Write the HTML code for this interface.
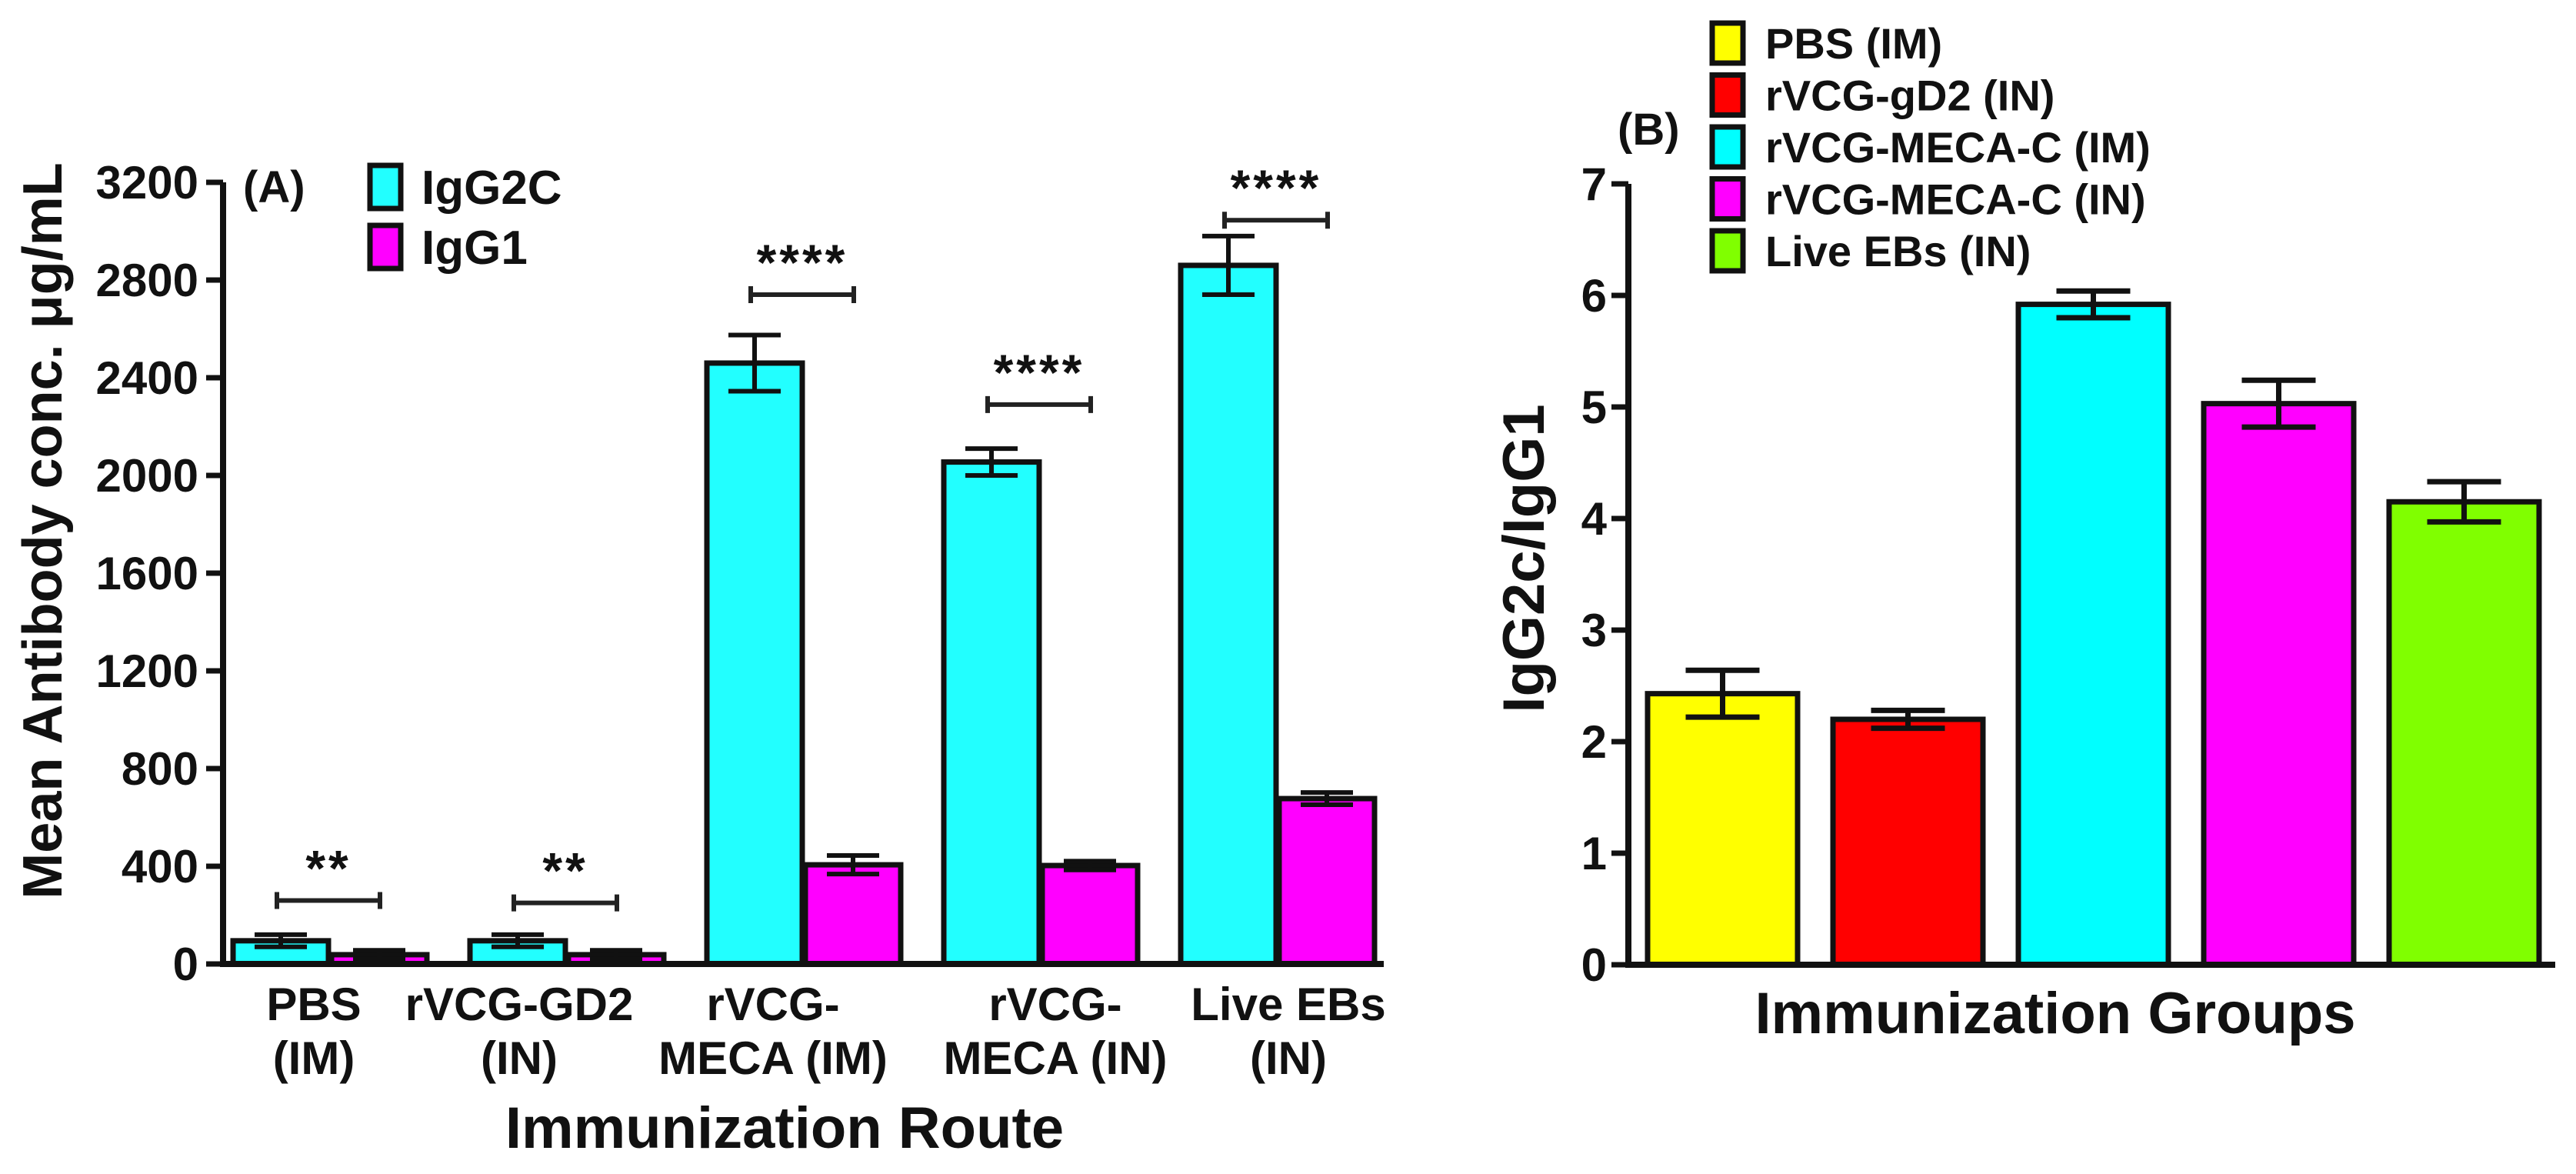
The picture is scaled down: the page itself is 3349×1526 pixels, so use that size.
<!DOCTYPE html>
<html><head><meta charset="utf-8"><style>
html,body{margin:0;padding:0;background:#fff;}
svg{display:block;}
text{font-family:"Liberation Sans",Arial,sans-serif;font-weight:bold;fill:#111;}
</style></head><body>
<svg id="fig" width="3349" height="1526" viewBox="0 0 3349 1526" xmlns="http://www.w3.org/2000/svg"></svg>
<script>
// Panel A data
const groupsA = [["PBS","(IM)"],["rVCG-GD2","(IN)"],["rVCG-","MECA (IM)"],["rVCG-","MECA (IN)"],["Live EBs","(IN)"]];
const igg2c = [95, 95, 2460, 2055, 2860];
const igg2cErr = [25, 25, 115, 55, 120];
const igg1 = [38, 38, 406, 403, 677];
const igg1Err = [18, 18, 38, 18, 25];
const sigLabels = ["**","**","****","****","****"];
const sigLevel = [260, 250, 2740, 2290, 3045];
const ticksA = [0,400,800,1200,1600,2000,2400,2800,3200];
// Panel B data
const groupsB = ["PBS (IM)","rVCG-gD2 (IN)","rVCG-MECA-C (IM)","rVCG-MECA-C (IN)","Live EBs (IN)"];
const ratio = [2.43, 2.2, 5.92, 5.03, 4.15];
const ratioErr = [0.21, 0.08, 0.12, 0.21, 0.18];
const ticksB = [0,1,2,3,4,5,6,7];
const colorsB = ["#ffff00","#ff0000","#00ffff","#ff00ff","#80ff00"];

const NS="http://www.w3.org/2000/svg";
const svg=document.getElementById('fig');
function mk(tag,attrs,parent){const e=document.createElementNS(NS,tag);for(const k in attrs)e.setAttribute(k,attrs[k]);(parent||svg).appendChild(e);return e;}
function txt(s,attrs,parent){const e=mk('text',attrs,parent);e.textContent=s;return e;}

// ===== Panel A =====
const A={x0:290,y0:1253,yTop:237,vmax:3200,gx0:303,gstep:308,bw:124,xEnd:1799};
const yA=v=>A.y0-(v/A.vmax)*(A.y0-A.yTop);
const gA=mk('g',{});


groupsA.forEach((lab,i)=>{
  const gx=A.gx0+i*A.gstep;
  [[igg2c,igg2cErr,"#22ffff",0,'bar-igg2c-'],[igg1,igg1Err,"#ff00ff",A.bw+4,'bar-igg1-']].forEach(([vals,errs,col,off,nm])=>{
    const x=gx+off, top=yA(vals[i]);
    const r=mk('rect',{x:x,y:top,width:A.bw,height:A.y0-top,fill:col,stroke:"#111","stroke-width":7},gA);
    
    
    const cx=x+A.bw/2, hi=yA(vals[i]+errs[i]), lo=yA(vals[i]-errs[i]);
    const eb=mk('path',{d:`M${cx} ${hi}V${lo}M${cx-34} ${hi}H${cx+34}M${cx-34} ${lo}H${cx+34}`,stroke:"#111","stroke-width":6,fill:"none"},gA);
    
    
  });
  // significance bracket
  const by=yA(sigLevel[i]), bx1=gx+57, bx2=gx+191;
  const br=mk('path',{d:`M${bx1} ${by}H${bx2}M${bx1} ${by-11}V${by+11}M${bx2} ${by-11}V${by+11}`,stroke:"#222","stroke-width":6,fill:"none"},gA);
  
  
  const st=txt(sigLabels[i],{x:(bx1+bx2)/2,y:by-47+28,"text-anchor":"middle","font-size":66,"letter-spacing":4,fill:"#333"},gA);
  
  
  // x labels
  const centersA=[408,675,1005,1372,1675];
  const l1=txt(lab[0],{x:centersA[i],y:1326,"text-anchor":"middle","font-size":60},gA);
  
  
  const l2=txt(lab[1],{x:centersA[i],y:1396,"text-anchor":"middle","font-size":60},gA);
  
  
});
const axA=mk('path',{d:`M${A.x0} ${yA(3200)}V${A.y0}H${A.xEnd}`,stroke:"#111","stroke-width":8,fill:"none"},gA);


ticksA.forEach(t=>{
  const y=yA(t);
  mk('line',{x1:A.x0-22,x2:A.x0,y1:y,y2:y,stroke:"#111","stroke-width":7},gA);
  const tl=txt(String(t),{x:A.x0-32,y:y+21,"text-anchor":"end","font-size":60},gA);
  
  
});
const yTitleA=txt("Mean Antibody conc. \u03bcg/mL",{x:0,y:0,"text-anchor":"middle","font-size":72,transform:"translate(80,690) rotate(-90)"},gA);


const xTitleA=txt("Immunization Route",{x:1020,y:1492,"text-anchor":"middle","font-size":76},gA);


const pa=txt("(A)",{x:316,y:263,"font-size":58},gA);


[["IgG2C","#22ffff",212],["IgG1","#ff00ff",290]].forEach(([name,col,y])=>{
  const g=mk('g',{},gA);
  
  
  mk('rect',{x:481,y:y+3,width:40,height:56,fill:col,stroke:"#111","stroke-width":7},g);
  txt(name,{x:548,y:y+53,"font-size":62},g);
});

// ===== Panel B =====
const B={x0:2117,y0:1254,perUnit:145,gx0:2142,gstep:241,bw:195,xEnd:3322};
const yB=v=>B.y0-v*B.perUnit;
const gB=mk('g',{});


ratio.forEach((v,i)=>{
  const x=B.gx0+i*B.gstep, top=yB(v);
  const r=mk('rect',{x:x,y:top,width:B.bw,height:B.y0-top,fill:colorsB[i],stroke:"#111","stroke-width":7},gB);
  
  
  const cx=x+B.bw/2, hi=yB(v+ratioErr[i]), lo=yB(v-ratioErr[i]);
  const eb=mk('path',{d:`M${cx} ${hi}V${lo}M${cx-48} ${hi}H${cx+48}M${cx-48} ${lo}H${cx+48}`,stroke:"#111","stroke-width":7,fill:"none"},gB);
  
  
});
const axB=mk('path',{d:`M${B.x0} ${yB(7)}V${B.y0}H${B.xEnd}`,stroke:"#111","stroke-width":8,fill:"none"},gB);


ticksB.forEach(t=>{
  const y=yB(t);
  mk('line',{x1:B.x0-22,x2:B.x0,y1:y,y2:y,stroke:"#111","stroke-width":7},gB);
  const tl=txt(String(t),{x:B.x0-28,y:y+21,"text-anchor":"end","font-size":60},gB);
  
  
});
const yTitleB=txt("IgG2c/IgG1",{x:0,y:0,"text-anchor":"middle","font-size":76,transform:"translate(2007,726) rotate(-90)"},gB);


const xTitleB=txt("Immunization Groups",{x:2672,y:1343,"text-anchor":"middle","font-size":76},gB);


const pb=txt("(B)",{x:2103,y:188,"font-size":58},gB);


groupsB.forEach((name,i)=>{
  const y=27+i*67.5;
  const g=mk('g',{},gB);
  
  
  mk('rect',{x:2226,y:y+3,width:40,height:52,fill:colorsB[i],stroke:"#111","stroke-width":7},g);
  txt(name,{x:2295,y:y+49,"font-size":56},g);
});
</script>
</body></html>
